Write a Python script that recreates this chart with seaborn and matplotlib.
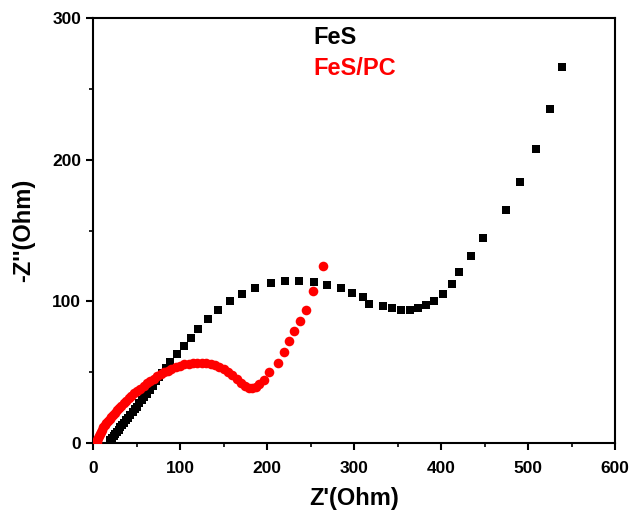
import pandas as pd
import seaborn as sns
import matplotlib.pyplot as plt
from matplotlib.ticker import MultipleLocator

# FeS (black squares): Z' and -Z'' in Ohm
fes_x = [19.5, 21.5, 23.5, 25.5, 27.5, 29.5, 31.5, 33.5, 35.5, 38, 40.5, 43, 45.5, 48,
         50, 53, 56, 59, 62, 65.5, 69, 72.5, 76, 79, 83.5, 88.5, 96, 104, 112, 121,
         131.5, 144, 157, 171, 185.5, 204.6, 220, 237, 253.7, 269, 284.7, 298, 310,
         317.6, 333, 344, 354, 363.6, 373.6, 382.8, 392.3, 402, 412.3, 421, 434.5,
         447.5, 474.7, 490, 508.4, 525.3, 538.7]
fes_y = [2, 3.5, 5, 6.5, 8, 9.5, 11, 12.5, 14, 16, 18, 20, 22, 24,
         25.6, 28, 30.3, 32.6, 34.9, 37.4, 40.5, 43.5, 46.5, 49.2, 53, 57.4, 63, 68.5, 74.3, 80.5,
         87.5, 94, 100.3, 105.2, 109.6, 112.9, 114.6, 114.6, 113.4, 111.6, 109.2, 105.7, 103.3,
         97.9, 96.7, 95.5, 94, 94.2, 95.5, 97.4, 100.4, 105.2, 112.2, 120.5, 131.8,
         144.7, 164.5, 184.4, 207.7, 235.6, 265.6]

# FeS/PC (red circles)
fespc_x = [4, 5, 6, 7, 8, 9, 10.5, 12, 13.5, 15, 17, 19, 21, 23, 25, 27.5, 30, 32.5, 35,
           38, 41, 44, 47, 50, 54, 58, 62, 66, 70, 74, 78, 82, 86, 90, 95, 100, 105, 110,
           115, 120, 125, 130, 135, 140, 145, 150, 155, 160, 165, 170, 175, 179, 183, 187,
           191, 196, 202.5, 212.8, 219.5, 225.3, 231, 238, 245.2, 252.5, 264.4]
fespc_y = [0.5, 2, 3.5, 5, 6.5, 8, 9.5, 11, 12.5, 14, 15.5, 17, 18.5, 20, 21.5, 23, 25, 26.5, 28,
           30, 32, 33.5, 35, 36.5, 38.5, 40.5, 42.5, 44, 45.5, 47, 48.5, 50, 51.2, 52.3, 53.5, 54.5, 55.5, 56,
           56.5, 56.8, 56.8, 56.5, 56, 55, 54, 52.5, 50.5, 48, 45.5, 42.5, 40, 39, 38.8, 39.5,
           41.5, 44.5, 50.3, 56.3, 64.3, 71.8, 79, 86.5, 94.1, 107.5, 124.7]

sns.set_theme(style="ticks")
plt.rcParams["font.family"] = ["Liberation Sans", "DejaVu Sans"]
plt.rcParams["font.weight"] = "bold"

fig = plt.figure(figsize=(6.33, 5.14), dpi=100)
ax = fig.add_axes([0.147, 0.138, 0.825, 0.827])

df_fes = pd.DataFrame({"x": fes_x, "y": fes_y})
df_pc = pd.DataFrame({"x": fespc_x, "y": fespc_y})
sns.scatterplot(data=df_fes, x="x", y="y", ax=ax, marker="s", s=34,
                color="black", linewidth=0, zorder=3)
sns.scatterplot(data=df_pc, x="x", y="y", ax=ax, marker="o", s=48,
                color="red", linewidth=0, zorder=4)

ax.set_xlim(0, 600)
ax.set_ylim(0, 300)
ax.xaxis.set_major_locator(MultipleLocator(100))
ax.xaxis.set_minor_locator(MultipleLocator(50))
ax.yaxis.set_major_locator(MultipleLocator(100))
ax.yaxis.set_minor_locator(MultipleLocator(50))
ax.tick_params(which="major", direction="out", length=5, width=1.5,
               labelsize=12.5, color="black", labelcolor="black")
ax.tick_params(axis="x", which="major", pad=8)
ax.tick_params(which="minor", direction="out", length=3, width=1.2, color="black")
for lab in ax.get_xticklabels() + ax.get_yticklabels():
    lab.set_fontweight("bold")
for sp in ax.spines.values():
    sp.set_visible(True)
    sp.set_linewidth(1.5)
    sp.set_color("black")

ax.set_xlabel("Z'(Ohm)", fontsize=17, fontweight="bold", color="black", labelpad=8)
ax.set_ylabel("-Z''(Ohm)", fontsize=17, fontweight="bold", color="black", labelpad=12)

ax.text(0.421, 0.953, "FeS", transform=ax.transAxes, fontsize=17,
        fontweight="bold", color="black", va="center", ha="left")
ax.text(0.421, 0.88, "FeS/PC", transform=ax.transAxes, fontsize=17,
        fontweight="bold", color="red", va="center", ha="left")

fig.savefig("out.png", dpi=100)
